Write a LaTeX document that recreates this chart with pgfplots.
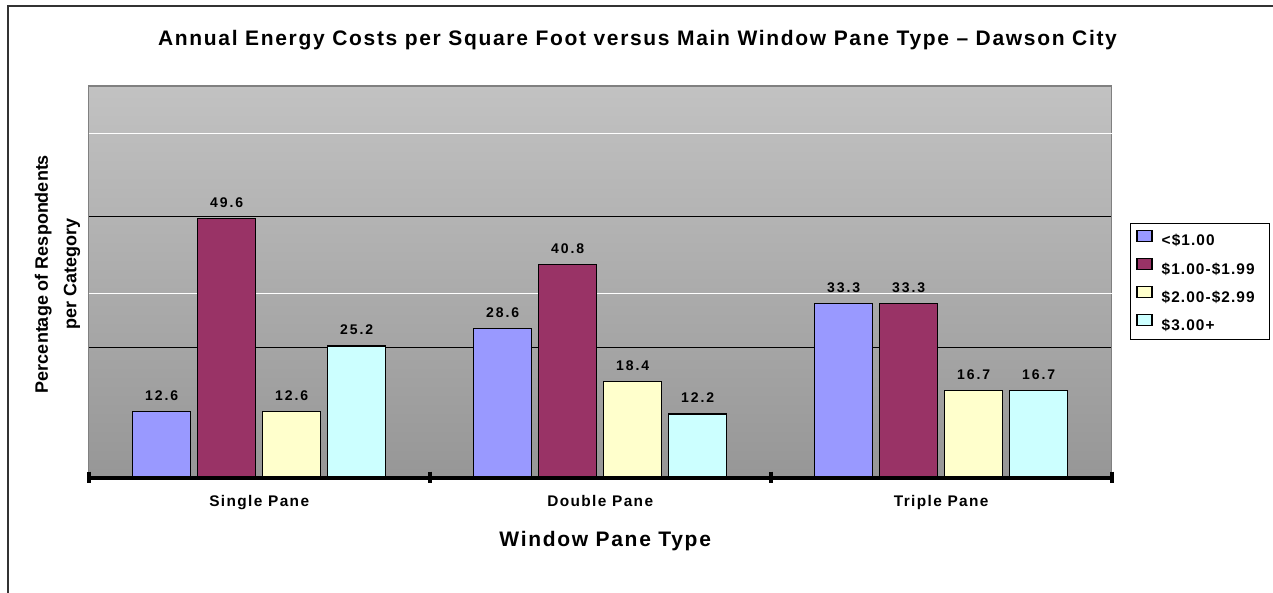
\documentclass[border=0pt]{standalone}
\usepackage{pgfplots}
\pgfplotsset{compat=1.18}
\usepackage{fontspec}
\setmainfont{Liberation Sans}
% tracked variants of the sans face for the chart texts
\newfontfamily\trackTitle[LetterSpace=8]{Liberation Sans}
\newfontfamily\trackCat[LetterSpace=9]{Liberation Sans}
\newfontfamily\trackLeg[LetterSpace=7]{Liberation Sans}
\newfontfamily\trackVal[LetterSpace=14]{Liberation Sans}

\definecolor{barBlue}{HTML}{9999FF}
\definecolor{barPlum}{HTML}{993366}
\definecolor{barCream}{HTML}{FFFFCC}
\definecolor{barAqua}{HTML}{CCFFFF}
\definecolor{bgTop}{gray}{0.76}
\definecolor{bgBot}{gray}{0.59}

\begin{document}
\begin{tikzpicture}
\useasboundingbox (0,0) rectangle (636.5pt,-296.5pt);
% outer chart frame
\draw[line width=0.6pt, black!80] (4pt,-300pt) -- (4pt,-3pt) -- (640pt,-3pt);
% chart title
\node[anchor=base, font=\trackTitle\bfseries\fontsize{10.5}{12}\selectfont]
  at (318.75pt,-22.85pt)
  {Annual Energy Costs per Square Foot versus Main Window Pane Type – Dawson City};
% value axis title
\node[rotate=90, align=center, font=\bfseries\fontsize{9}{14.2}\selectfont]
  at (28.75pt,-137pt) {Percentage of Respondents\\per Category};

\begin{axis}[
  at={(44.35pt,-238.8pt)}, anchor=south west,
  scale only axis, width=511.5pt, height=195.8pt,
  xmin=0, xmax=3, ymin=0, ymax=75,
  clip=false,
  ybar=3.5pt, bar width=29pt,
  axis background/.style={top color=bgTop, bottom color=bgBot},
  axis line style={draw=black!50, line width=0.6pt},
  major tick length=0pt,
  xtick={0.5,1.5,2.5},
  xticklabels={Single Pane, Double Pane, Triple Pane},
  xticklabel style={font=\trackCat\bfseries\fontsize{7.7}{9}\selectfont, anchor=base, yshift=-14.5pt},
  xtick pos=left,
  ytick={25,50}, yticklabels={},
  ymajorgrids,
  major grid style={black, line width=0.5pt},
  extra y ticks={35.3,65.9}, extra y tick labels={},
  extra y tick style={ymajorgrids, major grid style={white, line width=0.6pt}},
  xlabel={Window Pane Type},
  xlabel style={font=\trackTitle\bfseries\fontsize{10.5}{12}\selectfont, anchor=base,
    at={(axis description cs:0.5,0)}, yshift=-34.5pt, xshift=2.5pt},
  nodes near coords,
  nodes near coords style={font=\trackVal\bfseries\fontsize{7}{8}\selectfont, anchor=base,
    yshift=5.6pt, black},
  /pgf/number format/.cd, fixed, fixed zerofill, precision=1, assume math mode=true,
  /pgfplots/.cd,
  legend style={at={(1.0179,0.6494)}, anchor=north west, draw=black,
    line width=0.5pt, fill=white,
    font=\trackLeg\bfseries\fontsize{7.7}{9}\selectfont,
    inner xsep=2.9pt, inner ysep=3pt, row sep=4.5pt,
    nodes={inner xsep=0pt, inner ysep=0pt, text height=6pt, text depth=1.5pt},
    /tikz/every odd column/.append style={column sep=4.6pt}},
  legend cell align=left,
  legend image code/.code={\draw[#1, line width=0.6pt] (0pt,0pt) rectangle (7.5pt,5.5pt);},
]
\addplot[fill=barBlue, draw=black, line width=0.6pt]
  coordinates {(0.5,12.6) (1.5,28.6) (2.5,33.3)};
\addlegendentry{\makebox[51pt][l]{<\$1.00}}
\addplot[fill=barPlum, draw=black, line width=0.6pt]
  coordinates {(0.5,49.6) (1.5,40.8) (2.5,33.3)};
\addlegendentry{\makebox[51pt][l]{\$1.00-\$1.99}}
\addplot[fill=barCream, draw=black, line width=0.6pt]
  coordinates {(0.5,12.6) (1.5,18.4) (2.5,16.7)};
\addlegendentry{\makebox[51pt][l]{\$2.00-\$2.99}}
\addplot[fill=barAqua, draw=black, line width=0.6pt]
  coordinates {(0.5,25.2) (1.5,12.2) (2.5,16.7)};
\addlegendentry{\makebox[51pt][l]{\$3.00+}}
% heavy category axis line with block ticks between the categories
\draw[black, line width=2pt] (rel axis cs:0,0) -- (rel axis cs:1,0);
\pgfplotsinvokeforeach{0,1,2,3}{
  \draw[black, line width=2pt] (axis cs:#1,0) ++(0pt,3pt) -- ++(0pt,-5.5pt);
}
\end{axis}
\end{tikzpicture}
\end{document}
